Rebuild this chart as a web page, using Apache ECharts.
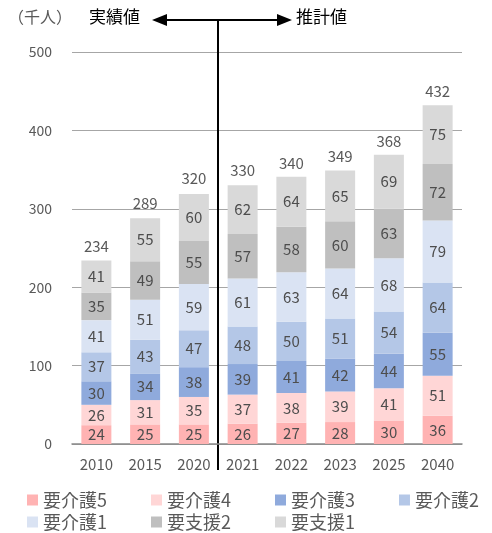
<!DOCTYPE html>
<html>
<head>
<meta charset="utf-8">
<script src="https://cdn.jsdelivr.net/npm/echarts@6/dist/echarts.min.js"></script>
<style>
  html, body { margin: 0; padding: 0; background: #fff; }
  #chart { width: 492px; height: 533px; }
</style>
</head>
<body>
<div id="chart"></div>
<script>
// 年度
const years = ['2010', '2015', '2020', '2021', '2022', '2023', '2025', '2040'];
// 系列名
const levelNames = ['要介護5', '要介護4', '要介護3', '要介護2', '要介護1', '要支援2', '要支援1'];
const levelColors = ['#ffb3b3', '#ffd6d6', '#8faadc', '#b4c7e7', '#dae3f3', '#bfbfbf', '#d9d9d9'];
// 各区分の人数（千人）
const care5 = [24, 25, 25, 26, 27, 28, 30, 36];
const care4 = [26, 31, 35, 37, 38, 39, 41, 51];
const care3 = [30, 34, 38, 39, 41, 42, 44, 55];
const care2 = [37, 43, 47, 48, 50, 51, 54, 64];
const care1 = [41, 51, 59, 61, 63, 64, 68, 79];
const support2 = [35, 49, 55, 57, 58, 60, 63, 72];
const support1 = [41, 55, 60, 62, 64, 65, 69, 75];
// 合計
const totals = [234, 289, 320, 330, 340, 349, 368, 432];

const levelData = [care5, care4, care3, care2, care1, support2, support1];
const fontFamily = '"Noto Sans CJK JP", "Noto Sans", sans-serif';

const chart = echarts.init(document.getElementById('chart'));

const barSeries = levelData.map((values, i) => ({
  name: levelNames[i],
  type: 'bar',
  stack: 'total',
  barWidth: 30,
  data: values,
  itemStyle: { color: levelColors[i] },
  label: {
    show: true,
    position: 'inside',
    color: '#4d4d4d',
    fontSize: 15,
    fontFamily: fontFamily
  }
}));

// 合計ラベル（透明の折れ線に載せる）
barSeries.push({
  name: '合計',
  type: 'line',
  data: totals,
  symbol: 'circle',
  symbolSize: 2,
  showSymbol: true,
  itemStyle: { color: 'rgba(0,0,0,0)' },
  lineStyle: { width: 0, color: 'rgba(0,0,0,0)' },
  silent: true,
  z: 10,
  label: {
    show: true,
    position: 'top',
    distance: 6,
    color: '#595959',
    fontSize: 15,
    fontFamily: fontFamily
  }
});

const legendStyle = {
  left: 22,
  width: 470,
  itemWidth: 11,
  itemHeight: 11,
  itemGap: 44,
  icon: 'rect',
  textStyle: { color: '#595959', fontSize: 18, fontFamily: fontFamily }
};

const option = {
  animation: false,
  textStyle: { fontFamily: fontFamily },
  grid: { left: 72, right: 30, top: 52, bottom: 89 },
  legend: [
    Object.assign({ data: levelNames.slice(0, 4), top: 486 }, legendStyle),
    Object.assign({ data: levelNames.slice(4), top: 508 }, legendStyle)
  ],
  xAxis: {
    type: 'category',
    data: years,
    axisTick: { show: false },
    axisLine: { lineStyle: { color: '#898989', width: 1.5 } },
    axisLabel: { color: '#595959', fontSize: 15, margin: 13 }
  },
  yAxis: {
    type: 'value',
    min: 0,
    max: 500,
    interval: 100,
    axisLine: { show: false },
    axisTick: { show: false },
    axisLabel: { color: '#595959', fontSize: 14, margin: 20 },
    splitLine: { lineStyle: { color: '#a6a6a6', width: 1.2 } }
  },
  series: barSeries
};

chart.setOption(option);

// 実績値／推計値の区切り線と矢印
function drawDivider() {
  const p2020 = chart.convertToPixel({ xAxisIndex: 0 }, years[2]);
  const p2021 = chart.convertToPixel({ xAxisIndex: 0 }, years[3]);
  const x = Math.round((p2020 + p2021) / 2);
  const yTop = 20;
  const yBottom = 470;
  const leftLen = 66;
  const rightLen = 74;
  const head = 15;
  chart.setOption({
    graphic: [
      { type: 'line', shape: { x1: x, y1: yTop, x2: x, y2: yBottom }, style: { stroke: '#000', lineWidth: 2 } },
      { type: 'line', shape: { x1: x - leftLen + head, y1: yTop, x2: x + rightLen - head, y2: yTop }, style: { stroke: '#000', lineWidth: 2 } },
      { type: 'polygon', shape: { points: [[x - leftLen, yTop], [x - leftLen + head, yTop - 6], [x - leftLen + head, yTop + 6]] }, style: { fill: '#000' } },
      { type: 'polygon', shape: { points: [[x + rightLen, yTop], [x + rightLen - head, yTop - 6], [x + rightLen - head, yTop + 6]] }, style: { fill: '#000' } },
      { type: 'text', x: x - leftLen - 12, y: yTop - 3, style: { text: '実績値', fill: '#000', font: '17px ' + fontFamily, align: 'right', verticalAlign: 'middle' } },
      { type: 'text', x: x + rightLen + 4, y: yTop - 3, style: { text: '推計値', fill: '#000', font: '17px ' + fontFamily, align: 'left', verticalAlign: 'middle' } },
      { type: 'text', x: 8, y: yTop - 3, style: { text: '（千人）', fill: '#595959', font: '16px ' + fontFamily, align: 'left', verticalAlign: 'middle' } }
    ]
  });
}

drawDivider();
</script>
</body>
</html>
